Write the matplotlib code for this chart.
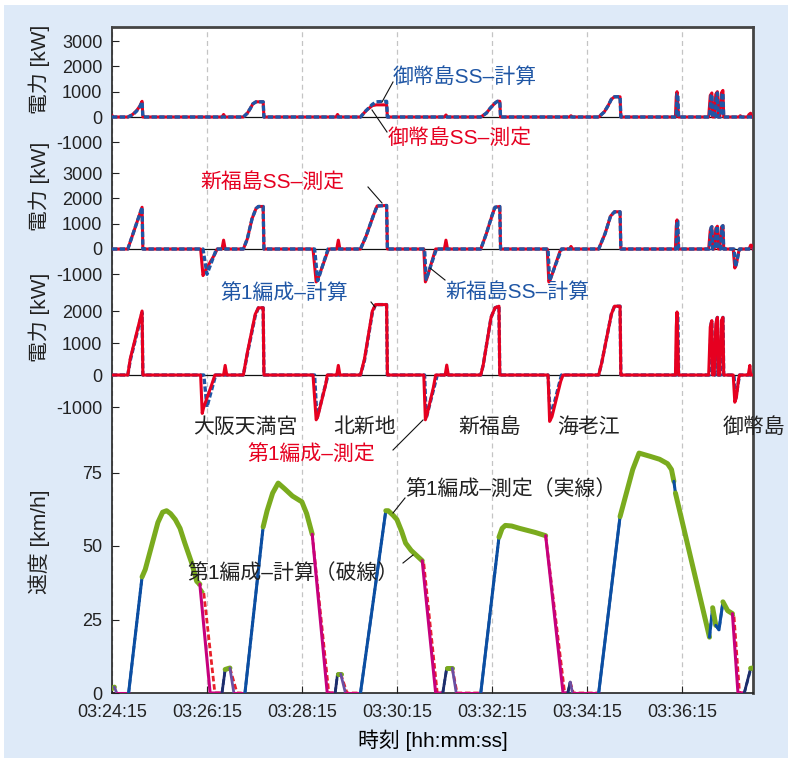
import matplotlib
matplotlib.use('Agg')
import matplotlib.pyplot as plt
from matplotlib.lines import Line2D
from matplotlib.patches import Rectangle

plt.rcParams['font.family'] = ['Liberation Sans', 'Noto Sans CJK JP']
plt.rcParams['axes.unicode_minus'] = False

# x axis: seconds after 03:24:15
time_ticks = [0, 120, 240, 360, 480, 600, 720]
time_labels = ['03:24:15', '03:26:15', '03:28:15', '03:30:15',
               '03:32:15', '03:34:15', '03:36:15']
t_end = 810

# 御幣島SS power [kW]
mite_meas_t = [0, 2, 20, 26, 31, 35, 38, 39, 139, 141, 143, 166, 171, 175, 178, 182, 191, 192,
               283, 285, 287, 314, 321, 329, 334, 347, 348, 420, 422, 424,
               466, 473, 478, 484, 487, 490, 491, 578, 580, 582,
               615, 622, 627, 631, 635, 642, 643, 712, 713, 714, 716,
               754, 756, 758, 759, 761, 763, 765, 766, 768, 770, 772, 773,
               792, 794, 796, 803, 805, 807, 808, 810]
mite_meas_p = [60, 0, 0, 100, 250, 420, 620, 0, 0, 100, 0, 0, 150, 350, 520, 600, 600, 0,
               0, 100, 0, 0, 250, 450, 480, 480, 0, 0, 80, 0,
               0, 150, 350, 550, 620, 620, 0, 0, 50, 0,
               0, 200, 450, 700, 800, 800, 0, 0, 800, 1000, 0,
               0, 850, 950, 0, 0, 900, 1000, 0, 0, 950, 1050, 0,
               0, 50, 0, 0, 100, 150, 0, 0]
mite_calc_t = [0, 20, 26, 31, 35, 38, 39, 166, 171, 175, 178, 182, 191, 192,
               314, 321, 329, 334, 347, 348, 466, 473, 478, 484, 487, 490, 491,
               615, 622, 627, 631, 635, 642, 643, 713, 714, 715, 716,
               755, 757, 758, 759, 762, 764, 765, 766, 769, 771, 772, 773, 810]
mite_calc_p = [0, 0, 80, 230, 400, 600, 0, 0, 150, 350, 520, 600, 600, 0,
               0, 250, 500, 600, 620, 0, 0, 150, 350, 550, 620, 620, 0,
               0, 200, 450, 700, 800, 800, 0, 0, 900, 900, 0,
               0, 850, 900, 0, 0, 880, 950, 0, 0, 900, 950, 0, 0]

# 新福島SS power [kW]
shin_meas_t = [0, 20, 38, 39, 112, 115, 117, 130, 133, 139, 141, 143,
               166, 171, 177, 182, 185, 191, 192, 254, 258, 260, 272, 274, 284, 286, 288,
               314, 321, 330, 335, 347, 348, 394, 396, 398, 407, 409, 420, 422, 424,
               466, 473, 480, 484, 490, 491, 550, 552, 554, 566, 568, 578, 580, 582,
               615, 623, 630, 635, 642, 643, 712, 713, 714, 716,
               754, 756, 758, 759, 761, 763, 765, 766, 768, 770, 772, 773,
               785, 787, 789, 792, 793, 805, 807, 808, 810]
shin_meas_p = [0, 0, 1650, 0, 0, -1050, -900, -200, 0, 0, 350, 0,
               0, 400, 1200, 1600, 1680, 1680, 0, 0, -1300, -1200, -150, 0, 0, 350, 0,
               0, 500, 1300, 1700, 1720, 0, 0, -1300, -1150, -200, 0, 0, 350, 0,
               0, 600, 1300, 1650, 1680, 0, 0, -1300, -1200, -100, 0, 0, 100, 0,
               0, 600, 1300, 1470, 1470, 0, 0, 900, 1150, 0,
               0, 750, 880, 0, 0, 800, 900, 0, 0, 850, 920, 0,
               0, -750, -600, -100, 0, 0, 150, 150, 0]
shin_calc_t = [0, 20, 38, 39, 115, 120, 132, 166, 171, 177, 182, 185, 191, 192,
               256, 260, 273, 314, 321, 330, 335, 347, 348, 395, 397, 410,
               466, 473, 480, 484, 490, 491, 551, 553, 568,
               615, 623, 630, 635, 642, 643, 713, 714, 715, 716,
               755, 757, 758, 759, 762, 764, 765, 766, 769, 771, 772, 773,
               786, 788, 793, 810]
shin_calc_p = [0, 0, 1650, 0, 0, -1000, 0, 0, 400, 1200, 1600, 1680, 1680, 0,
               0, -1250, 0, 0, 500, 1300, 1700, 1720, 0, 0, -1200, 0,
               0, 600, 1300, 1650, 1680, 0, 0, -1250, 0,
               0, 600, 1300, 1470, 1470, 0, 0, 1100, 1100, 0,
               0, 850, 880, 0, 0, 880, 900, 0, 0, 900, 920, 0,
               0, -700, 0, 0]

# 第1編成 power [kW]
car_meas_t = [0, 20, 23, 38, 39, 112, 114, 116, 126, 130, 141, 143, 145,
              166, 171, 181, 185, 191, 192, 254, 258, 260, 270, 272, 284, 286, 288,
              314, 319, 329, 333, 347, 348, 394, 396, 398, 406, 409, 421, 423, 425,
              466, 469, 479, 484, 489, 490, 551, 553, 556, 567, 570,
              615, 619, 631, 635, 642, 643, 712, 713, 714, 716,
              754, 756, 758, 759, 761, 763, 765, 766, 768, 770, 772, 773,
              785, 787, 789, 792, 793, 804, 806, 807, 810]
car_meas_p = [0, 0, 500, 2000, 0, 0, -1200, -1000, -300, 0, 0, 300, 0,
              0, 700, 1900, 2100, 2100, 0, 0, -1400, -1300, -300, 0, 0, 300, 0,
              0, 500, 2000, 2200, 2200, 0, 0, -1400, -1250, -400, 0, 0, 310, 0,
              0, 300, 1800, 2100, 2150, 0, 0, -1450, -1300, -200, 0,
              0, 400, 1900, 2150, 2150, 0, 0, 1500, 1970, 0,
              0, 1500, 1700, 0, 0, 1600, 1800, 0, 0, 1700, 1800, 0,
              0, -850, -700, -100, 0, 0, 300, 0, 0]
car_calc_t = [0, 20, 23, 38, 39, 116, 120, 131, 166, 171, 181, 185, 191, 192,
              256, 259, 273, 314, 319, 329, 333, 347, 348, 395, 397, 411,
              466, 469, 479, 484, 489, 490, 551, 554, 568,
              615, 619, 631, 635, 642, 643, 713, 714, 715, 716,
              755, 757, 758, 759, 762, 764, 765, 766, 769, 771, 772, 773,
              786, 788, 793, 810]
car_calc_p = [0, 0, 450, 1950, 0, 0, -1000, 0, 0, 650, 1850, 2100, 2100, 0,
              0, -1350, 0, 0, 450, 1950, 2200, 2200, 0, 0, -1350, 0,
              0, 300, 1800, 2100, 2150, 0, 0, -1350, 0,
              0, 400, 1900, 2150, 2150, 0, 0, 1900, 1900, 0,
              0, 1600, 1700, 0, 0, 1700, 1800, 0, 0, 1750, 1800, 0,
              0, -750, 0, 0]

# 第1編成 speed [km/h]; mode = running state of the segment that starts at that point
# P powering, C coasting, B braking / standing, N creeping up, U creeping down
spd_meas_t = [0, 3, 6, 21, 38, 42, 50, 58, 64, 69, 74, 80, 86, 92, 101, 107, 111, 124,
              139, 143, 149, 154, 168, 191, 196, 203, 210, 218, 228, 240, 246, 253, 272,
              282, 285, 289, 295, 314, 346, 349, 355, 360, 366, 371, 378, 386, 392, 409,
              418, 423, 430, 435, 466, 489, 493, 497, 505, 515, 525, 535, 548, 570,
              576, 579, 582, 615, 642, 650, 658, 666, 680, 692, 702, 707, 710, 712,
              755, 759, 763, 767, 772, 778, 784, 791, 799, 807, 810]
spd_meas_v = [1.5, 2, 0, 0, 39.5, 42, 50, 58, 61.5, 62, 61, 59, 56, 51, 44, 38, 37, 0,
              0, 8, 8.5, 0, 0, 56.5, 62, 68, 71.4, 69.5, 67, 65, 61, 54, 0,
              0, 6.5, 6.5, 0, 0, 62, 62, 60.5, 59, 55, 51, 48.5, 46.5, 45, 0,
              0, 8.5, 8.5, 0, 0, 53, 56, 57, 56.8, 56, 55.3, 54.6, 53.5, 0,
              0, 3.7, 0, 0, 60, 68, 76, 81.6, 80.5, 79.5, 78, 76, 72, 68,
              19, 29, 23, 21.5, 31, 28, 27, 0, 0, 8.4, 8.5]
spd_meas_mode = ['C', 'U', 'B', 'P', 'C', 'C', 'C', 'C', 'C', 'C', 'C', 'C', 'C', 'C', 'C', 'C', 'B', 'B',
                 'N', 'C', 'U', 'B', 'P', 'C', 'C', 'C', 'C', 'C', 'C', 'C', 'C', 'B', 'B',
                 'N', 'C', 'U', 'B', 'P', 'C', 'C', 'C', 'C', 'C', 'C', 'C', 'C', 'B', 'B',
                 'N', 'C', 'U', 'B', 'P', 'C', 'C', 'C', 'C', 'C', 'C', 'C', 'B', 'B',
                 'N', 'U', 'B', 'P', 'C', 'C', 'C', 'C', 'C', 'C', 'C', 'C', 'P', 'C',
                 'P', 'C', 'P', 'P', 'C', 'C', 'B', 'B', 'N', 'C', 'C']
spd_calc_t = [0, 21, 38, 42, 50, 58, 64, 69, 74, 80, 86, 92, 101, 107, 111, 116, 130,
              139, 143, 149, 158, 168, 191, 196, 203, 210, 218, 228, 240, 246, 253, 274,
              282, 285, 289, 297, 314, 346, 349, 355, 360, 366, 371, 378, 386, 392, 394, 411,
              418, 423, 430, 436, 466, 489, 493, 497, 505, 515, 525, 535, 548, 572,
              576, 579, 583, 615, 642, 650, 658, 666, 680, 692, 702, 707, 710, 712,
              755, 759, 763, 767, 772, 778, 784, 786, 793, 799, 807, 810]
spd_calc_v = [0, 0, 39.5, 42, 50, 58, 61.5, 62, 61, 59, 56, 51, 44, 38, 36, 34, 0,
              0, 8, 8.5, 0, 0, 56.5, 62, 68, 71.4, 69.5, 67, 65, 61, 54, 0,
              0, 6.5, 6.5, 0, 0, 62, 62, 60.5, 59, 55, 51, 48.5, 46.5, 45, 44, 0,
              0, 8.5, 8.5, 0, 0, 53, 56, 57, 56.8, 56, 55.3, 54.6, 53.5, 0,
              0, 3.7, 0, 0, 60, 68, 76, 81.6, 80.5, 79.5, 78, 76, 72, 68,
              19, 29, 23, 21.5, 31, 28, 27, 26, 0, 0, 8, 8.5]
spd_calc_mode = ['B', 'P', 'C', 'C', 'C', 'C', 'C', 'C', 'C', 'C', 'C', 'C', 'C', 'C', 'C', 'B', 'B',
                 'P', 'C', 'B', 'B', 'P', 'C', 'C', 'C', 'C', 'C', 'C', 'C', 'C', 'B', 'B',
                 'P', 'C', 'B', 'B', 'P', 'C', 'C', 'C', 'C', 'C', 'C', 'C', 'C', 'C', 'B', 'B',
                 'P', 'C', 'B', 'B', 'P', 'C', 'C', 'C', 'C', 'C', 'C', 'C', 'B', 'B',
                 'P', 'B', 'B', 'P', 'C', 'C', 'C', 'C', 'C', 'C', 'C', 'C', 'C', 'C',
                 'P', 'C', 'P', 'P', 'C', 'C', 'C', 'B', 'B', 'P', 'C', 'C']

RED = '#e60020'
BLUE = '#1f56a5'
meas_col = {'P': '#0b4ea2', 'C': '#7aab1e', 'B': '#c6007d', 'N': '#1e2d6b', 'U': '#6a4ea3'}
meas_lw = {'P': 2.2, 'C': 3.6, 'B': 2.2, 'N': 2.0, 'U': 2.0}
calc_col = {'P': '#1f56a5', 'C': '#7aab1e', 'B': '#e8202a'}

W, H = 788, 758
L_PX, R_PX, T_PX, B_PX = 112, 753, 27, 693


def fx(x):
    return x / W


def fy(y):
    return 1 - y / H


def panel_ylim(zero_px, px_per_unit):
    return (-(B_PX - zero_px) / px_per_unit, (zero_px - T_PX) / px_per_unit)


def draw_modes(ax, t, v, modes, colors, widths, ls, z):
    i = 0
    n = len(t)
    while i < n - 1:
        j = i
        while j + 1 < n - 1 and modes[j + 1] == modes[i]:
            j += 1
        m = modes[i]
        ax.plot(t[i:j + 2], v[i:j + 2], color=colors[m], lw=widths.get(m, 2.0) if widths else 2.0,
                ls=ls, solid_capstyle='round', zorder=z)
        i = j + 1


fig = plt.figure(figsize=(W / 100, H / 100), dpi=100, facecolor='white')
fig.add_artist(Rectangle((fx(4), 0), 1 - fx(4), fy(5), transform=fig.transFigure,
                         facecolor='#deeaf8', edgecolor='none', zorder=-10))

rect = [fx(L_PX), fy(B_PX), fx(R_PX) - fx(L_PX), fy(T_PX) - fy(B_PX)]
ax_v = fig.add_axes(rect, facecolor='white')
ax1 = fig.add_axes(rect, facecolor='none', sharex=ax_v)
ax2 = fig.add_axes(rect, facecolor='none', sharex=ax_v)
ax3 = fig.add_axes(rect, facecolor='none', sharex=ax_v)

# speed panel
draw_modes(ax_v, spd_calc_t, spd_calc_v, spd_calc_mode, calc_col, None, (0, (2.0, 1.0)), 2)
draw_modes(ax_v, spd_meas_t, spd_meas_v, spd_meas_mode, meas_col, meas_lw, '-', 3)
ax_v.set_xlim(0, t_end)
ax_v.set_ylim(*panel_ylim(693, 73.5 / 25))
ax_v.set_yticks([0, 25, 50, 75])
ax_v.set_xticks(time_ticks)
ax_v.set_xticklabels(time_labels)
ax_v.grid(axis='x', ls=(0, (4, 3)), color='#c4c4c4', lw=0.9)
ax_v.tick_params(direction='in', length=5, labelsize=13, pad=7, colors='#222222')
ax_v.tick_params(axis='x', pad=8)
ax_v.set_xlabel('時刻 [hh:mm:ss]', fontsize=15, labelpad=6)
for s in ['left', 'bottom']:
    ax_v.spines[s].set_color('#222222')
    ax_v.spines[s].set_linewidth(1.2)
for s in ['top', 'right']:
    ax_v.spines[s].set_color('#444444')
    ax_v.spines[s].set_linewidth(2.0)

# power panels
panels = [
    (ax1, mite_meas_t, mite_meas_p, mite_calc_t, mite_calc_p, 117, 25.3, [3000, 2000, 1000, 0, -1000], True),
    (ax2, shin_meas_t, shin_meas_p, shin_calc_t, shin_calc_p, 249, 25.3, [3000, 2000, 1000, 0, -1000], True),
    (ax3, car_meas_t, car_meas_p, car_calc_t, car_calc_p, 375, 32.0, [2000, 1000, 0, -1000], False),
]
for ax, mt, mp, ct, cp, zero_px, px_k, ticks, calc_on_top in panels:
    ax.axhline(0, color='#111111', lw=0.9, zorder=1)
    zc, zm = (4, 3) if calc_on_top else (3, 4)
    ax.plot(mt, mp, color=RED, lw=2.2, zorder=zm)
    ax.plot(ct, cp, color=BLUE, lw=2.4, ls=(0, (1.6, 0.7)), zorder=zc)
    ax.set_ylim(*panel_ylim(zero_px, px_k / 1000))
    ax.set_yticks(ticks)
    ax.tick_params(axis='y', direction='in', length=5, labelsize=13, pad=7, colors='#222222')
    ax.tick_params(axis='x', bottom=False, labelbottom=False)
    for s in ax.spines.values():
        s.set_visible(False)

# axis titles
for label, yc in [('電力 [kW]', 69), ('電力 [kW]', 186), ('電力 [kW]', 317), ('速度 [km/h]', 542)]:
    fig.text(fx(39), fy(yc), label, rotation=90, ha='center', va='center', fontsize=15, color='#222222')

# series labels
notes = [
    ('御幣島SS–計算', 393, 77, BLUE),
    ('御幣島SS–測定', 388, 138, RED),
    ('新福島SS–測定', 200, 182, RED),
    ('新福島SS–計算', 445, 292, BLUE),
    ('第1編成–計算', 220, 293, BLUE),
    ('第1編成–測定', 247, 455, RED),
    ('第1編成–測定（実線）', 405, 490, '#222222'),
    ('第1編成–計算（破線）', 187, 573, '#222222'),
]
for txt, x, y, c in notes:
    fig.text(fx(x), fy(y), txt, ha='left', va='center', fontsize=15, color=c)

leaders = [((382, 102), (393, 82)), ((372, 110), (387, 132)), ((368, 187), (382, 203)),
           ((430, 268), (445, 280)), ((371, 302), (375, 307)), ((393, 450), (423, 420)),
           ((405, 498), (393, 513)), ((403, 563), (413, 555))]
for (x1, y1), (x2, y2) in leaders:
    fig.add_artist(Line2D([fx(x1), fx(x2)], [fy(y1), fy(y2)], transform=fig.transFigure,
                          color='#111111', lw=0.8, zorder=10))

# stations
for name, x in [('大阪天満宮', 193), ('北新地', 333), ('新福島', 458), ('海老江', 557), ('御幣島', 723)]:
    fig.text(fx(x), fy(427), name, ha='left', va='center', fontsize=15, color='#222222')

fig.savefig('out.png', dpi=100)
